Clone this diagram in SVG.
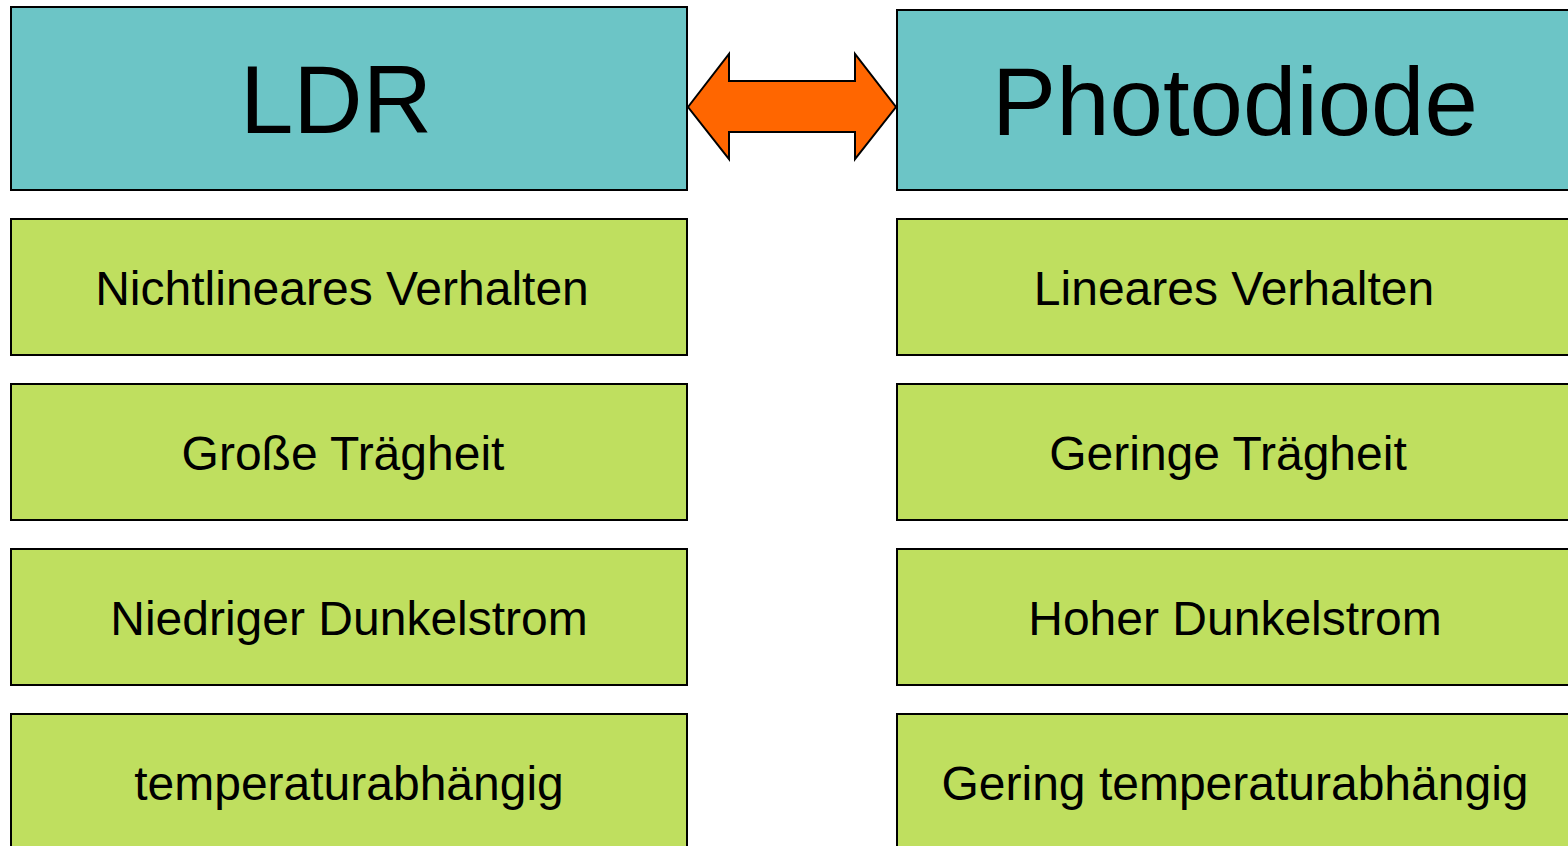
<svg xmlns="http://www.w3.org/2000/svg" width="1568" height="846" viewBox="0 0 1568 846">
<style>
.head{fill:#6CC5C6;stroke:#000;stroke-width:2}
.item{fill:#BFDF5F;stroke:#000;stroke-width:2}
.t1{font-family:"Liberation Sans",Arial,sans-serif;font-size:96px;fill:#000;text-anchor:middle}
.t2{font-family:"Liberation Sans",Arial,sans-serif;font-size:48px;fill:#000;text-anchor:middle}
</style>
<rect width="1568" height="846" fill="#fff"/>
<g id="ldr"><rect class="head" x="11" y="7" width="676" height="183"/><text class="t1" x="336" y="133">LDR</text></g>
<g id="photodiode"><rect class="head" x="897" y="10" width="680" height="180"/><text class="t1" x="1235" y="135">Photodiode</text></g>
<g id="l1"><rect class="item" x="11" y="219" width="676" height="136"/><text class="t2" x="342" y="305">Nichtlineares Verhalten</text></g>
<g id="l2"><rect class="item" x="11" y="384" width="676" height="136"/><text class="t2" x="343" y="470">Große Trägheit</text></g>
<g id="l3"><rect class="item" x="11" y="549" width="676" height="136"/><text class="t2" x="349" y="635">Niedriger Dunkelstrom</text></g>
<g id="l4"><rect class="item" x="11" y="714" width="676" height="150"/><text class="t2" x="349" y="800">temperaturabhängig</text></g>
<g id="r1"><rect class="item" x="897" y="219" width="680" height="136"/><text class="t2" x="1234" y="305">Lineares Verhalten</text></g>
<g id="r2"><rect class="item" x="897" y="384" width="680" height="136"/><text class="t2" x="1228" y="470">Geringe Trägheit</text></g>
<g id="r3"><rect class="item" x="897" y="549" width="680" height="136"/><text class="t2" x="1235" y="635">Hoher Dunkelstrom</text></g>
<g id="r4"><rect class="item" x="897" y="714" width="680" height="150"/><text class="t2" x="1235" y="800">Gering temperaturabhängig</text></g>
<g id="connectors"><polygon points="688,107 729,54 729,81 855,81 855,54 896,107 855,159 855,132 729,132 729,159" fill="#FF6600" stroke="#000" stroke-width="2" stroke-linejoin="miter"/></g>
</svg>
